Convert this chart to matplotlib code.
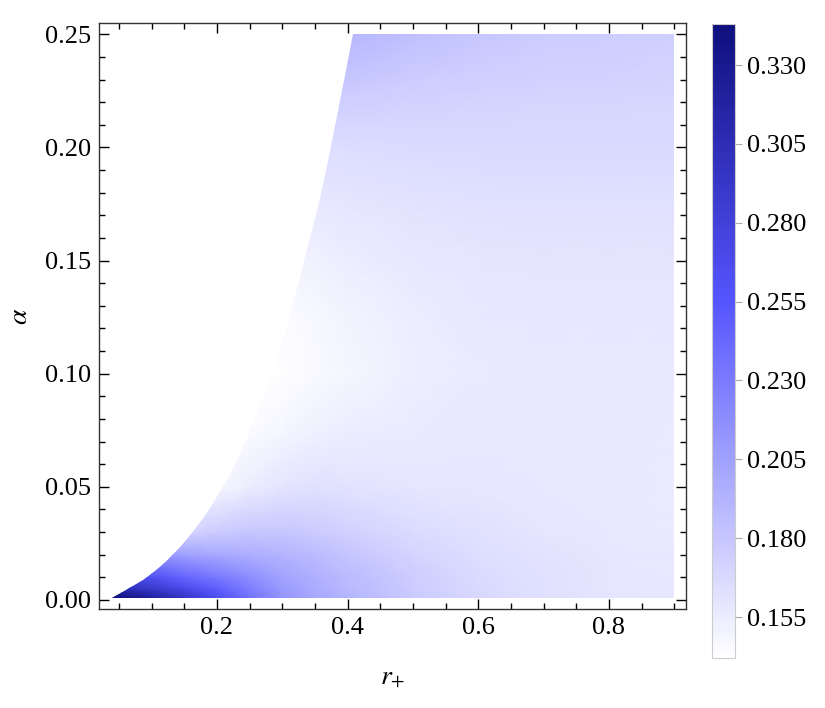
import numpy as np
import matplotlib
matplotlib.use("Agg")
import matplotlib.pyplot as plt
from matplotlib.colors import LinearSegmentedColormap
from matplotlib.patches import PathPatch
from matplotlib.path import Path
from matplotlib.ticker import MultipleLocator

r_vals = [0.04, 0.07, 0.10, 0.15, 0.20, 0.25, 0.30, 0.35, 0.40, 0.50, 0.60, 0.70, 0.80, 0.90]
alpha_vals = [0.001, 0.005, 0.01, 0.02, 0.03, 0.05, 0.075, 0.10, 0.125, 0.15, 0.175, 0.20, 0.225, 0.25]

# one row per alpha value, columns follow r_vals
field = [
    [0.343, 0.335, 0.322, 0.295, 0.265, 0.237, 0.213, 0.200, 0.192, 0.178, 0.168, 0.163, 0.160, 0.158],
    [0.310, 0.300, 0.290, 0.270, 0.248, 0.228, 0.208, 0.197, 0.189, 0.176, 0.167, 0.162, 0.159, 0.157],
    [0.280, 0.270, 0.262, 0.245, 0.232, 0.218, 0.204, 0.195, 0.187, 0.175, 0.166, 0.162, 0.159, 0.157],
    [0.215, 0.215, 0.215, 0.205, 0.200, 0.196, 0.192, 0.187, 0.181, 0.171, 0.164, 0.161, 0.158, 0.157],
    [0.170, 0.170, 0.170, 0.170, 0.176, 0.180, 0.180, 0.177, 0.173, 0.166, 0.162, 0.159, 0.157, 0.156],
    [0.148, 0.148, 0.148, 0.148, 0.148, 0.154, 0.160, 0.162, 0.161, 0.159, 0.158, 0.157, 0.157, 0.155],
    [0.145, 0.145, 0.145, 0.145, 0.145, 0.145, 0.149, 0.152, 0.154, 0.156, 0.157, 0.157, 0.157, 0.156],
    [0.143, 0.143, 0.143, 0.143, 0.143, 0.143, 0.143, 0.146, 0.149, 0.153, 0.156, 0.157, 0.157, 0.157],
    [0.145, 0.145, 0.145, 0.145, 0.145, 0.145, 0.145, 0.147, 0.150, 0.154, 0.157, 0.158, 0.158, 0.158],
    [0.151, 0.151, 0.151, 0.151, 0.151, 0.151, 0.151, 0.152, 0.154, 0.157, 0.159, 0.160, 0.160, 0.160],
    [0.157, 0.157, 0.157, 0.157, 0.157, 0.157, 0.157, 0.157, 0.159, 0.161, 0.162, 0.163, 0.163, 0.163],
    [0.165, 0.165, 0.165, 0.165, 0.165, 0.165, 0.165, 0.165, 0.165, 0.166, 0.167, 0.167, 0.167, 0.167],
    [0.177, 0.177, 0.177, 0.177, 0.177, 0.177, 0.177, 0.177, 0.177, 0.174, 0.172, 0.171, 0.171, 0.170],
    [0.190, 0.190, 0.190, 0.190, 0.190, 0.190, 0.190, 0.190, 0.190, 0.184, 0.179, 0.176, 0.175, 0.174],
]

# left edge of the allowed region
edge_r = [0.040, 0.071, 0.102, 0.130, 0.163, 0.189, 0.209, 0.228, 0.246, 0.292, 0.311, 0.340, 0.368, 0.408]
edge_alpha = [0.001, 0.006, 0.012, 0.019, 0.030, 0.040, 0.050, 0.060, 0.071, 0.105, 0.124, 0.157, 0.190, 0.250]
r_max = 0.90

cbar_ticks = [0.155, 0.180, 0.205, 0.230, 0.255, 0.280, 0.305, 0.330]
vmin, vmax = 0.142, 0.343

plt.rcParams['font.family'] = ['Liberation Serif', 'DejaVu Serif']
plt.rcParams['mathtext.fontset'] = 'stix'

cmap = LinearSegmentedColormap.from_list(
    'wb', [(0.0, (1, 1, 1)), (0.562, (85/255, 85/255, 1.0)), (1.0, (15/255, 15/255, 125/255))])

fig = plt.figure(figsize=(8.25, 7.08), dpi=100)
ax = fig.add_axes([0.12, 0.1398, 0.7115, 0.8277])
cax = fig.add_axes([0.863, 0.0706, 0.0279, 0.8955])

R, A = np.meshgrid(r_vals, alpha_vals)
mesh = ax.pcolormesh(R, A, np.array(field), shading='gouraud', cmap=cmap, vmin=vmin, vmax=vmax)

# smooth clip outline: quadratic pieces through the edge readings
pts = list(zip(edge_r, edge_alpha))
verts = [pts[0]]
codes = [Path.MOVETO]
for i in range(1, len(pts) - 1):
    mid = ((pts[i][0] + pts[i + 1][0]) / 2, (pts[i][1] + pts[i + 1][1]) / 2)
    if i == len(pts) - 2:
        mid = pts[-1]
    verts += [pts[i], mid]
    codes += [Path.CURVE3, Path.CURVE3]
verts += [(r_max, edge_alpha[-1]), (r_max, edge_alpha[0]), pts[0]]
codes += [Path.LINETO, Path.LINETO, Path.CLOSEPOLY]
clip = PathPatch(Path(verts, codes), transform=ax.transData, facecolor='none', edgecolor='none')
ax.add_patch(clip)
mesh.set_clip_path(clip)

ax.set_xlim(0.0194, 0.918)
ax.set_ylim(-0.004, 0.255)
ax.xaxis.set_major_locator(MultipleLocator(0.2))
ax.xaxis.set_minor_locator(MultipleLocator(0.05))
ax.yaxis.set_major_locator(MultipleLocator(0.05))
ax.yaxis.set_minor_locator(MultipleLocator(0.01))
ax.xaxis.set_major_formatter(plt.FormatStrFormatter('%.1f'))
ax.yaxis.set_major_formatter(plt.FormatStrFormatter('%.2f'))
ax.tick_params(which='both', direction='in', top=True, right=True, labelsize=19, width=1.0)
ax.tick_params(which='major', length=7, pad=6)
ax.tick_params(which='minor', length=4)
for s in ax.spines.values():
    s.set_linewidth(1.0)
    s.set_color('#333333')

ax.set_xlabel(r'$r_{+}$', fontsize=20, labelpad=18)
ax.set_ylabel(r'$\alpha$', fontsize=20, labelpad=8)

cb = fig.colorbar(mesh, cax=cax, ticks=cbar_ticks)
cb.ax.yaxis.set_major_formatter(plt.FormatStrFormatter('%.3f'))
cb.ax.tick_params(labelsize=19, length=5, width=0.8, color='#aaaaaa', pad=4)
cb.outline.set_edgecolor('#cccccc')
cb.outline.set_linewidth(0.8)

fig.savefig('out.png', dpi=100)
